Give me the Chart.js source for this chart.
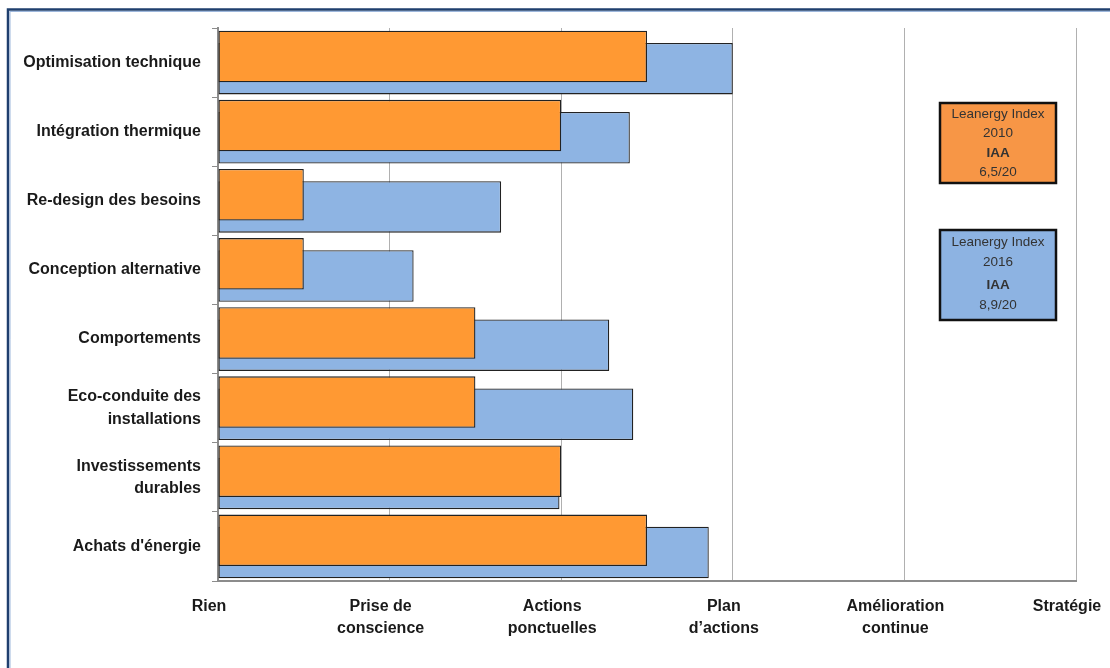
<!DOCTYPE html>
<html>
<head>
<meta charset="utf-8">
<script src="https://cdn.jsdelivr.net/npm/chart.js@4/dist/chart.umd.min.js"></script>
<style>
  body { margin: 0; background: #fff; }
  #chart { display: block; }
</style>
</head>
<body>
<canvas id="chart" width="1110" height="668"></canvas>
<script>
const categories = [
  'Optimisation technique',
  'Intégration thermique',
  'Re-design des besoins',
  'Conception alternative',
  'Comportements',
  ['Eco-conduite des', 'installations'],
  ['Investissements', 'durables'],
  "Achats d'énergie"
]
const values2010 = [2.5, 2.0, 0.5, 0.5, 1.5, 1.5, 2.0, 2.5]
const values2016 = [3.0, 2.4, 1.65, 1.14, 2.28, 2.42, 1.99, 2.86]
const levelLabels = [
  'Rien',
  ['Prise de', 'conscience'],
  ['Actions', 'ponctuelles'],
  ['Plan', 'd\u2019actions'],
  ['Amélioration', 'continue'],
  'Stratégie'
]
const box2010 = ['Leanergy Index', '2010', 'IAA', '6,5/20']
const box2016 = ['Leanergy Index', '2016', 'IAA', '8,9/20']

const labelFont = { family: '"Liberation Sans", Arial, sans-serif', size: 16, weight: 'bold', lineHeight: 1.4 }

// frame + the two index boxes on the right
const extras = {
  id: 'extras',
  beforeDraw(chart) {
    const ctx = chart.ctx
    ctx.save()
    ctx.fillStyle = '#fff'
    ctx.fillRect(0, 0, chart.width, chart.height)
    ctx.strokeStyle = '#1f3f6e'
    ctx.lineWidth = 2.5
    ctx.beginPath()
    ctx.moveTo(8, chart.height)
    ctx.lineTo(8, 9.5)
    ctx.lineTo(chart.width, 9.5)
    ctx.stroke()
    ctx.strokeStyle = '#9db7dc'
    ctx.lineWidth = 1
    ctx.beginPath()
    ctx.moveTo(10, chart.height)
    ctx.lineTo(10, 11.5)
    ctx.lineTo(chart.width, 11.5)
    ctx.stroke()
    ctx.restore()
  },
  afterDraw(chart) {
    const ctx = chart.ctx
    const drawBox = (x, y, w, h, fill, lines, ys) => {
      ctx.save()
      ctx.fillStyle = fill
      ctx.fillRect(x, y, w, h)
      ctx.strokeStyle = '#111'
      ctx.lineWidth = 2.5
      ctx.strokeRect(x, y, w, h)
      ctx.fillStyle = '#333'
      ctx.textAlign = 'center'
      ctx.textBaseline = 'middle'
      lines.forEach((t, i) => {
        ctx.font = (t === 'IAA' ? 'bold ' : '') + '13.5px "Liberation Sans", Arial, sans-serif'
        ctx.fillText(t, x + w / 2, ys[i])
      })
      ctx.restore()
    }
    drawBox(940, 103, 116, 80, '#f79646', box2010, [114, 133, 153, 172])
    drawBox(940, 230, 116, 90, '#8db3e2', box2016, [242, 262, 285, 305])
  }
}

new Chart(document.getElementById('chart'), {
  type: 'bar',
  data: {
    labels: categories,
    datasets: [
      {
        label: '2010',
        data: values2010,
        backgroundColor: '#ff9933',
        borderColor: '#222',
        borderWidth: 1.3,
        borderSkipped: false
      },
      {
        label: '2016',
        data: values2016,
        backgroundColor: '#8eb4e3',
        borderColor: '#222',
        borderWidth: 1.3,
        borderSkipped: false
      }
    ]
  },
  options: {
    indexAxis: 'y',
    responsive: false,
    animation: false,
    categoryPercentage: 0.353,
    barPercentage: 4.22,
    layout: { padding: { top: 28, right: 0, bottom: 0, left: 0 } },
    plugins: {
      legend: { display: false },
      tooltip: { enabled: false }
    },
    scales: {
      x: {
        min: 0,
        max: 5,
        afterFit(scale) {
          scale.height = 87
          scale.paddingRight = 34
        },
        ticks: {
          stepSize: 1,
          color: '#1a1a1a',
          font: labelFont,
          padding: 14,
          labelOffset: -9,
          maxRotation: 0,
          autoSkip: false,
          callback: (v) => levelLabels[v]
        },
        grid: { color: '#b0b0b0', lineWidth: 1, drawTicks: false },
        border: { color: '#8c8c8c', width: 2 }
      },
      y: {
        afterFit(scale) { scale.width = 218 },
        ticks: {
          color: '#1a1a1a',
          font: labelFont,
          padding: 11
        },
        grid: { drawOnChartArea: false, offset: true, tickLength: 6, color: '#8c8c8c' },
        border: { color: '#8c8c8c', width: 2 }
      }
    }
  },
  plugins: [extras]
})
</script>
</body>
</html>
